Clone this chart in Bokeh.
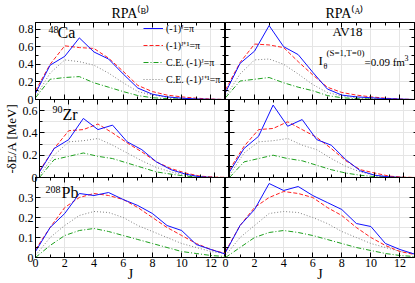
import math
from bokeh.plotting import figure
from bokeh.layouts import row, column
from bokeh.models import Range1d, FixedTicker, LinearAxis, Label, Legend, LegendItem
from bokeh.embed import file_html
from bokeh.resources import INLINE

# ---------------- data ----------------
J = list(range(14))

# 48Ca, RPA(B)
ca_b_nat = [0.07, 0.39, 0.49, 0.70, 0.54, 0.46, 0.29, 0.13, 0.06, 0.03, 0.015, 0.006, 0.002, 0.0]
ca_b_unnat = [0.10, 0.40, 0.61, 0.59, 0.58, 0.47, 0.32, 0.16, 0.09, 0.05, 0.03, 0.015, 0.005, 0.0]
ca_b_ce_nat = [0.02, 0.23, 0.25, 0.26, 0.19, 0.14, 0.09, 0.045, 0.02, 0.01, 0.005, 0.002, 0.0, 0.0]
ca_b_ce_unnat = [0.03, 0.30, 0.45, 0.43, 0.39, 0.30, 0.19, 0.09, 0.05, 0.025, 0.012, 0.006, 0.002, 0.0]
# 48Ca, RPA(A)
ca_a_nat = [0.08, 0.41, 0.55, 0.84, 0.60, 0.51, 0.31, 0.12, 0.05, 0.03, 0.02, 0.01, 0.005, 0.0]
ca_a_unnat = [0.11, 0.42, 0.63, 0.62, 0.59, 0.43, 0.28, 0.14, 0.08, 0.05, 0.03, 0.015, 0.005, 0.0]
ca_a_ce_nat = [0.02, 0.21, 0.23, 0.25, 0.19, 0.14, 0.10, 0.045, 0.02, 0.01, 0.005, 0.002, 0.0, 0.0]
ca_a_ce_unnat = [0.03, 0.29, 0.45, 0.46, 0.40, 0.29, 0.17, 0.08, 0.04, 0.02, 0.01, 0.005, 0.002, 0.0]
# 90Zr, RPA(B)
zr_b_nat = [0.05, 0.26, 0.34, 0.53, 0.43, 0.47, 0.32, 0.25, 0.14, 0.07, 0.03, 0.006, 0.0, 0.0]
zr_b_unnat = [0.06, 0.26, 0.42, 0.43, 0.48, 0.40, 0.31, 0.23, 0.14, 0.08, 0.04, 0.012, 0.003, 0.0]
zr_b_ce_nat = [0.0, 0.16, 0.19, 0.22, 0.19, 0.17, 0.13, 0.09, 0.05, 0.03, 0.012, 0.004, 0.0, 0.0]
zr_b_ce_unnat = [0.02, 0.20, 0.32, 0.33, 0.35, 0.29, 0.22, 0.15, 0.09, 0.05, 0.02, 0.008, 0.002, 0.0]
# 90Zr, RPA(A)
zr_a_nat = [0.05, 0.26, 0.37, 0.65, 0.46, 0.52, 0.34, 0.29, 0.16, 0.06, 0.02, 0.005, 0.0, 0.0]
zr_a_unnat = [0.07, 0.28, 0.43, 0.44, 0.50, 0.43, 0.36, 0.26, 0.15, 0.07, 0.04, 0.012, 0.003, 0.0]
zr_a_ce_nat = [0.0, 0.14, 0.17, 0.20, 0.17, 0.15, 0.11, 0.07, 0.04, 0.02, 0.008, 0.003, 0.0, 0.0]
zr_a_ce_unnat = [0.02, 0.22, 0.32, 0.33, 0.35, 0.29, 0.25, 0.17, 0.10, 0.05, 0.02, 0.008, 0.002, 0.0]
# 208Pb, RPA(B)
pb_b_nat = [0.03, 0.15, 0.22, 0.32, 0.31, 0.325, 0.29, 0.26, 0.22, 0.16, 0.135, 0.065, 0.04, 0.017]
pb_b_unnat = [0.04, 0.15, 0.25, 0.30, 0.32, 0.31, 0.29, 0.25, 0.20, 0.15, 0.11, 0.07, 0.04, 0.02]
pb_b_ce_nat = [0.0, 0.06, 0.11, 0.135, 0.145, 0.13, 0.11, 0.09, 0.07, 0.05, 0.03, 0.02, 0.01, 0.005]
pb_b_ce_unnat = [0.01, 0.10, 0.16, 0.21, 0.23, 0.225, 0.20, 0.16, 0.13, 0.10, 0.07, 0.05, 0.03, 0.02]
# 208Pb, RPA(A)
pb_a_nat = [0.025, 0.16, 0.24, 0.37, 0.335, 0.355, 0.31, 0.275, 0.24, 0.17, 0.155, 0.07, 0.04, 0.017]
pb_a_unnat = [0.03, 0.16, 0.25, 0.30, 0.33, 0.32, 0.30, 0.25, 0.21, 0.15, 0.10, 0.06, 0.03, 0.015]
pb_a_ce_nat = [0.0, 0.05, 0.10, 0.125, 0.135, 0.125, 0.11, 0.09, 0.07, 0.05, 0.035, 0.02, 0.01, 0.005]
pb_a_ce_unnat = [0.01, 0.10, 0.16, 0.22, 0.23, 0.225, 0.20, 0.17, 0.13, 0.10, 0.07, 0.05, 0.03, 0.02]

x_major = [0, 2, 4, 6, 8, 10, 12]
x_minor = [1, 3, 5, 7, 9, 11, 13]
x_labels = ["0", "2", "4", "6", "8", "10", "12"]

top_ymax = 0.875
top_yticks = [0, 0.2, 0.4, 0.6, 0.8]
top_yminor = [0.1, 0.3, 0.5, 0.7]
top_ylabels = ["0", "0.2", "0.4", "0.6", "0.8"]

mid_ymax = 0.7
mid_yticks = [0, 0.2, 0.4, 0.6]
mid_yminor = [0.1, 0.3, 0.5]
mid_ylabels = ["0", "0.2", "0.4", "0.6"]

bot_ymax = 0.4
bot_yticks = [0, 0.1, 0.2, 0.3]
bot_yminor = [0.05, 0.15, 0.25, 0.35]
bot_ylabels = ["0", "0.1", "0.2", "0.3"]

legend_labels = ["(-1)ᴶ=π", "(-1)ᴶ⁺¹=π", "C.E. (-1)ᴶ=π", "C.E. (-1)ᴶ⁺¹=π"]
col_titles = ["RPA⁽ᴮ⁾", "RPA⁽ᴬ⁾"]
x_title = "J"
y_title = "-δE/A [MeV]"

# ---------------- layout constants ----------------
FONT = "Liberation Serif"
FW = [190, 189]
FH = [77, 78, 80]
LEFT_B = 35
TOP_B = 22
BOT_B = 26
OVER = 6
TITLE_OFFSET = [76, 100]


def style_axis(ax, show, ticks, labels):
    ax.axis_line_color = "black"
    ax.axis_line_width = 1
    ax.major_tick_in = 5
    ax.major_tick_out = 0
    ax.minor_tick_in = 3
    ax.minor_tick_out = 0
    ax.major_tick_line_color = "black"
    ax.minor_tick_line_color = "black"
    if show:
        ax.major_label_text_font = FONT
        ax.major_label_text_font_size = "12px"
        ax.major_label_text_color = "black"
        ax.major_label_standoff = 2
        ax.major_label_overrides = dict(zip(ticks, labels))
    else:
        ax.major_label_text_font_size = "0px"
        ax.major_label_standoff = 0
        ax.major_label_overrides = {t: "" for t in ticks}


def txt(p, s, x, ytop, size, **kw):
    fh = p.frame_height
    p.add_layout(Label(x=x, y=fh - ytop, x_units="screen", y_units="screen", text=s,
                       text_font=FONT, text_font_size=f"{size}px", text_color="black", **kw))


def panel(ci, ri, ymax, yt, ym, yl, nat, unnat, ce_nat, ce_unnat):
    fw, fh = FW[ci], FH[ri]
    p = figure(frame_width=fw, frame_height=fh, x_range=Range1d(0, 13), y_range=Range1d(0, ymax),
               x_axis_location=None, y_axis_location=None, output_backend="svg",
               toolbar_location=None, tools="")
    p.min_border_left = LEFT_B if ci == 0 else OVER
    p.min_border_right = 0 if ci == 0 else 1
    p.min_border_top = TOP_B if ri == 0 else 0
    p.min_border_bottom = BOT_B if ri == 2 else OVER
    p.background_fill_color = None
    p.border_fill_color = None
    p.outline_line_color = "black"
    p.margin = (0, 0, 0, -OVER if ci == 1 else 0)

    xt = FixedTicker(ticks=x_major, minor_ticks=x_minor)
    for place in ("below", "above"):
        ax = LinearAxis(ticker=xt)
        show = place == "below" and ri == 2
        style_axis(ax, show, x_major, x_labels)
        if show:
            ax.major_label_standoff = 1
            ax.axis_label = x_title
            ax.axis_label_text_font = FONT
            ax.axis_label_text_font_size = "14px"
            ax.axis_label_text_font_style = "normal"
            ax.axis_label_text_color = "black"
            ax.axis_label_standoff = -3
        p.add_layout(ax, place)
    ytk = FixedTicker(ticks=yt, minor_ticks=ym)
    for place in ("left", "right"):
        ax = LinearAxis(ticker=ytk)
        show = place == "left" and ci == 0
        style_axis(ax, show, yt, yl)
        if show and ri == 1:
            ax.axis_label = y_title
            ax.axis_label_text_font = FONT
            ax.axis_label_text_font_size = "13px"
            ax.axis_label_text_font_style = "normal"
            ax.axis_label_text_color = "black"
            ax.axis_label_standoff = 1
        p.add_layout(ax, place)

    if ri == 0:
        p.title.text = col_titles[ci]
        p.title.align = "left"
        p.title.offset = TITLE_OFFSET[ci]
        p.title.standoff = 3
        p.title.text_font = FONT
        p.title.text_font_size = "14px"
        p.title.text_font_style = "normal"
        p.title.text_color = "black"

    r_gray = p.line(J, ce_unnat, line_color="#808080", line_width=1, line_dash="1 2")
    r_green = p.line(J, ce_nat, line_color="#1ea01e", line_width=1, line_dash="5 2 1 2")
    r_red = p.line(J, unnat, line_color="#ff2020", line_width=1, line_dash="4 2")
    r_blue = p.line(J, nat, line_color="#1010ff", line_width=1)
    return p, [r_blue, r_red, r_green, r_gray]


p11, rs = panel(0, 0, top_ymax, top_yticks, top_yminor, top_ylabels, ca_b_nat, ca_b_unnat, ca_b_ce_nat, ca_b_ce_unnat)
p12, _ = panel(1, 0, top_ymax, top_yticks, top_yminor, top_ylabels, ca_a_nat, ca_a_unnat, ca_a_ce_nat, ca_a_ce_unnat)
p21, _ = panel(0, 1, mid_ymax, mid_yticks, mid_yminor, mid_ylabels, zr_b_nat, zr_b_unnat, zr_b_ce_nat, zr_b_ce_unnat)
p22, _ = panel(1, 1, mid_ymax, mid_yticks, mid_yminor, mid_ylabels, zr_a_nat, zr_a_unnat, zr_a_ce_nat, zr_a_ce_unnat)
p31, _ = panel(0, 2, bot_ymax, bot_yticks, bot_yminor, bot_ylabels, pb_b_nat, pb_b_unnat, pb_b_ce_nat, pb_b_ce_unnat)
p32, _ = panel(1, 2, bot_ymax, bot_yticks, bot_yminor, bot_ylabels, pb_a_nat, pb_a_unnat, pb_a_ce_nat, pb_a_ce_unnat)

# legend
legend = Legend(items=[LegendItem(label=lab, renderers=[r]) for lab, r in zip(legend_labels, rs)],
                location=(108, 13), padding=0, margin=0, spacing=4,
                glyph_width=20, glyph_height=12, label_height=12, label_standoff=3,
                label_text_font=FONT, label_text_font_size="10px", label_text_color="black",
                border_line_color=None, background_fill_alpha=0)
p11.add_layout(legend)

# nucleus labels
txt(p11, "48", 13, 10, 10)
txt(p11, "Ca", 22, 18, 16)
txt(p21, "90", 13, 13, 10)
txt(p21, "Zr", 23, 23, 16)
txt(p31, "208", 10, 15, 10)
txt(p31, "Pb", 26, 23, 16)

# annotations top right
txt(p12, "AV18", 107, 16, 13)
txt(p12, "I", 93, 45, 13)
txt(p12, "θ", 98, 48, 8)
txt(p12, "(S=1,T=0)", 101, 35, 9)
txt(p12, "=0.09 fm", 139, 45, 11)
txt(p12, "3", 179, 38, 8)

r1 = row(p11, p12)
r2 = row(p21, p22, margin=(-OVER, 0, 0, 0))
r3 = row(p31, p32, margin=(-OVER, 0, 0, 0))
layout = column(r1, r2, r3)

open("out.html", "w").write(file_html(layout, INLINE))
